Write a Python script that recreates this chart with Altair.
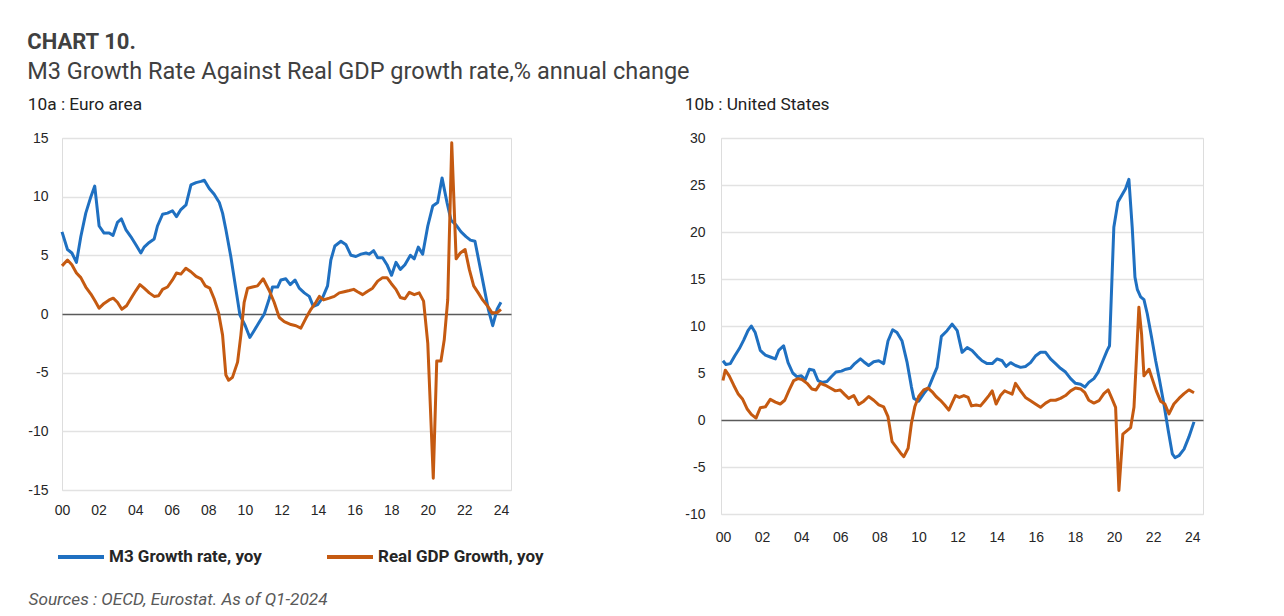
import altair as alt
import pandas as pd

BLUE = "#1f70c1"
ORANGE = "#c55a11"
M3_LABEL = "M3 Growth rate, yoy"
GDP_LABEL = "Real GDP Growth, yoy"

# (year offset from 2000, % yoy)
euro_m3 = [
    (0.00, 7.0), (0.30, 5.5), (0.54, 5.2), (0.79, 4.4), (1.03, 6.6), (1.30, 8.6), (1.58, 10.0),
    (1.79, 10.9), (2.03, 7.5), (2.30, 6.9), (2.58, 6.9), (2.79, 6.7), (3.03, 7.8), (3.25, 8.1),
    (3.49, 7.2), (3.76, 6.6), (4.04, 5.9), (4.31, 5.2), (4.49, 5.7), (4.77, 6.1), (5.04, 6.4),
    (5.22, 7.5), (5.50, 8.5), (5.77, 8.6), (6.04, 8.8), (6.26, 8.3), (6.50, 8.9), (6.78, 9.3),
    (7.05, 11.0), (7.33, 11.2), (7.60, 11.3), (7.78, 11.4), (8.05, 10.7), (8.32, 10.2), (8.60, 9.5),
    (8.78, 8.6), (8.96, 7.2), (9.23, 4.9), (9.51, 2.1), (9.73, -0.1), (10.02, -1.0), (10.27, -2.0),
    (10.51, -1.4), (10.78, -0.7), (11.06, 0.0), (11.33, 1.3), (11.51, 2.3), (11.79, 2.3),
    (11.97, 2.9), (12.24, 3.0), (12.48, 2.5), (12.74, 2.9), (12.97, 2.2), (13.25, 1.8), (13.52, 1.5),
    (13.74, 0.65), (13.98, 0.8), (14.25, 1.4), (14.52, 2.4), (14.70, 4.6), (14.92, 5.8), (15.25, 6.2),
    (15.53, 5.9), (15.80, 5.0), (16.07, 4.9), (16.35, 5.1), (16.62, 5.2), (16.80, 5.1), (17.04, 5.4),
    (17.26, 4.8), (17.53, 4.8), (17.77, 4.2), (18.02, 3.3), (18.26, 4.4), (18.50, 3.8), (18.75, 4.2),
    (19.05, 5.0), (19.26, 4.7), (19.48, 5.7), (19.72, 5.1), (20.00, 7.5), (20.27, 9.2), (20.54, 9.5),
    (20.78, 11.6), (21.05, 9.5), (21.27, 8.0), (21.54, 7.6), (21.82, 7.0), (22.09, 6.6), (22.33, 6.3),
    (22.58, 6.2), (22.82, 4.3), (23.06, 2.4), (23.31, 0.4), (23.55, -1.0), (23.79, 0.4), (24.00, 1.0),
]
euro_gdp = [
    (0.00, 4.1), (0.30, 4.6), (0.54, 4.2), (0.79, 3.5), (1.03, 3.1), (1.30, 2.3), (1.58, 1.7),
    (1.81, 1.1), (2.03, 0.5), (2.30, 0.9), (2.58, 1.2), (2.80, 1.35), (3.03, 1.0), (3.27, 0.4),
    (3.53, 0.7), (3.76, 1.3), (4.04, 2.0), (4.26, 2.5), (4.49, 2.2), (4.77, 1.8), (5.04, 1.5),
    (5.28, 1.55), (5.50, 2.1), (5.77, 2.3), (6.04, 2.9), (6.26, 3.5), (6.50, 3.4), (6.77, 3.9),
    (7.05, 3.6), (7.33, 3.2), (7.60, 3.0), (7.83, 2.4), (8.08, 2.2), (8.32, 1.3), (8.56, 0.1),
    (8.78, -1.8), (8.96, -5.2), (9.11, -5.65), (9.32, -5.4), (9.60, -4.1), (9.78, -1.8), (9.96, 1.0),
    (10.15, 2.2), (10.42, 2.3), (10.69, 2.4), (11.00, 3.0), (11.33, 2.0), (11.60, 1.0), (11.88, -0.3),
    (12.15, -0.65), (12.52, -0.9), (12.79, -1.0), (13.06, -1.2), (13.34, -0.35), (13.61, 0.4),
    (13.88, 1.0), (14.07, 1.5), (14.30, 1.2), (14.61, 1.35), (14.89, 1.5), (15.16, 1.8), (15.43, 1.9),
    (15.71, 2.0), (15.95, 2.1), (16.16, 1.9), (16.44, 1.65), (16.67, 1.9), (16.98, 2.2), (17.26, 2.8),
    (17.53, 3.1), (17.77, 3.1), (18.00, 2.6), (18.26, 2.1), (18.50, 1.4), (18.75, 1.3), (18.99, 1.85),
    (19.26, 1.65), (19.53, 1.8), (19.77, 1.1), (20.00, -2.5), (20.30, -14.0), (20.49, -4.0),
    (20.72, -4.0), (20.90, -2.2), (21.09, 1.2), (21.31, 14.6), (21.55, 4.7), (21.78, 5.2), (22.04, 5.5),
    (22.27, 3.8), (22.51, 2.4), (22.76, 1.8), (23.00, 1.2), (23.28, 0.65), (23.51, 0.1), (23.78, 0.1),
    (24.00, 0.4),
]
us_m3 = [
    (0.00, 6.3), (0.15, 5.9), (0.38, 6.0), (0.60, 6.8), (0.84, 7.6), (1.06, 8.5), (1.28, 9.5),
    (1.45, 10.0), (1.65, 9.3), (1.91, 7.4), (2.17, 6.9), (2.42, 6.7), (2.68, 6.5), (2.85, 7.4),
    (3.10, 7.9), (3.33, 6.1), (3.57, 5.0), (3.79, 4.6), (4.01, 4.7), (4.21, 4.3), (4.42, 5.4),
    (4.64, 5.3), (4.86, 4.2), (5.07, 4.0), (5.32, 4.1), (5.54, 4.6), (5.78, 5.1), (6.06, 5.2),
    (6.29, 5.4), (6.52, 5.5), (6.74, 6.0), (7.03, 6.5), (7.20, 6.2), (7.45, 5.8), (7.71, 6.2),
    (7.97, 6.3), (8.22, 6.0), (8.44, 8.4), (8.68, 9.6), (8.90, 9.3), (9.16, 8.4), (9.42, 6.1),
    (9.64, 3.5), (9.76, 2.3), (10.01, 2.0), (10.27, 2.8), (10.53, 3.5), (10.73, 4.5), (10.95, 5.6),
    (11.17, 8.9), (11.46, 9.5), (11.72, 10.2), (11.98, 9.5), (12.23, 7.2), (12.49, 7.7), (12.74, 7.4),
    (13.00, 6.8), (13.25, 6.3), (13.51, 6.0), (13.77, 6.0), (14.02, 6.5), (14.28, 6.3), (14.48, 5.7),
    (14.71, 6.1), (14.96, 5.8), (15.22, 5.6), (15.47, 5.7), (15.73, 6.1), (15.98, 6.8), (16.24, 7.2),
    (16.50, 7.2), (16.75, 6.5), (17.01, 6.0), (17.26, 5.5), (17.52, 5.1), (17.78, 4.4), (18.03, 3.9),
    (18.29, 3.8), (18.51, 3.5), (18.71, 4.0), (18.97, 4.4), (19.19, 5.1), (19.43, 6.3), (19.65, 7.4),
    (19.77, 7.9), (19.99, 20.5), (20.20, 23.2), (20.42, 24.0), (20.59, 24.6), (20.76, 25.6),
    (20.93, 20.5), (21.07, 15.2), (21.19, 13.9), (21.36, 13.1), (21.53, 12.8), (21.70, 11.3),
    (21.92, 8.8), (22.13, 6.3), (22.33, 4.2), (22.55, 1.7), (22.77, -1.1), (22.98, -3.6),
    (23.12, -4.0), (23.32, -3.8), (23.58, -3.1), (23.83, -1.8), (24.09, -0.2),
]
us_gdp = [
    (0.00, 4.2), (0.12, 5.3), (0.32, 4.7), (0.55, 3.7), (0.77, 2.8), (1.01, 2.2), (1.23, 1.2),
    (1.45, 0.6), (1.69, 0.2), (1.91, 1.3), (2.17, 1.4), (2.42, 2.2), (2.68, 1.9), (2.93, 1.7),
    (3.16, 2.1), (3.39, 3.2), (3.62, 4.2), (3.84, 4.4), (4.04, 4.3), (4.30, 3.9), (4.55, 3.3),
    (4.76, 3.2), (4.98, 3.9), (5.24, 3.7), (5.49, 3.4), (5.75, 3.1), (6.00, 3.2), (6.23, 2.7),
    (6.43, 2.3), (6.69, 2.6), (6.94, 1.65), (7.20, 2.0), (7.45, 2.5), (7.71, 2.1), (7.97, 1.6),
    (8.22, 1.4), (8.44, 0.35), (8.65, -2.3), (8.90, -3.0), (9.08, -3.5), (9.25, -3.9), (9.47, -3.0),
    (9.64, -0.35), (9.81, 1.4), (10.01, 2.5), (10.27, 3.2), (10.49, 3.4), (10.70, 3.0), (10.90, 2.5),
    (11.12, 2.1), (11.34, 1.6), (11.55, 1.05), (11.89, 2.6), (12.09, 2.4), (12.32, 2.6), (12.54, 2.4),
    (12.71, 1.5), (12.95, 1.6), (13.17, 1.5), (13.39, 2.05), (13.60, 2.6), (13.77, 3.1), (13.97, 1.7),
    (14.19, 2.6), (14.41, 3.1), (14.62, 2.9), (14.79, 2.75), (14.96, 3.9), (15.22, 3.1), (15.47, 2.4),
    (15.73, 2.05), (15.98, 1.7), (16.24, 1.35), (16.50, 1.8), (16.75, 2.1), (17.01, 2.1), (17.26, 2.3),
    (17.52, 2.6), (17.78, 3.1), (18.03, 3.4), (18.29, 3.3), (18.51, 2.9), (18.71, 2.1), (18.97, 1.8),
    (19.23, 2.05), (19.48, 2.8), (19.70, 3.2), (19.91, 2.2), (20.08, 1.35), (20.25, -7.5),
    (20.45, -1.5), (20.68, -1.1), (20.85, -0.8), (21.02, 1.35), (21.14, 6.3), (21.27, 12.0),
    (21.41, 9.1), (21.53, 4.7), (21.79, 5.4), (21.95, 4.4), (22.16, 3.1), (22.38, 2.0), (22.60, 1.7),
    (22.81, 0.65), (23.06, 1.7), (23.32, 2.3), (23.58, 2.8), (23.83, 3.2), (24.09, 2.9),
]

x_ticks = list(range(0, 25, 2))
euro_y_ticks = [-15, -10, -5, 0, 5, 10, 15]
us_y_ticks = [-10, -5, 0, 5, 10, 15, 20, 25, 30]

LABEL_FONT = "Liberation Sans"
TEXT_FONT = "Roboto"


def frame(m3, gdp):
    rows = [{"year": t, "value": v, "series": M3_LABEL} for t, v in m3]
    rows += [{"year": t, "value": v, "series": GDP_LABEL} for t, v in gdp]
    return pd.DataFrame(rows)


grid_color = {"condition": {"test": "datum.value === 0", "value": "#5a5a5a"}, "value": "#e2e2e2"}
grid_width = {"condition": {"test": "datum.value === 0", "value": 1.6}, "value": 1.4}


def panel(df, title, width, height, xdom, ydom, yticks, ylabelpad, xlabelpad, legend, xtitle):
    x_axis_kwargs = dict(
        values=x_ticks,
        labelExpr="datum.value < 10 ? '0' + datum.value : '' + datum.value",
        grid=False, ticks=False, domain=False, labelFlush=False,
        labelFont=LABEL_FONT, labelFontSize=14, labelColor="#262626",
        labelPadding=xlabelpad,
    )
    if xtitle:
        x_axis_kwargs.update(
            title=xtitle, titleX=-34, titleY=109, titleAlign="left", titleAnchor="start",
            titleBaseline="middle", titleFont=TEXT_FONT, titleFontSize=17.2, titleFontStyle="italic",
            titleFontWeight="normal", titleColor="#595959",
        )
    else:
        x_axis_kwargs.update(title=None)
    return alt.Chart(df).mark_line(strokeWidth=3, strokeJoin="round").encode(
        x=alt.X("year:Q", scale=alt.Scale(domain=xdom, nice=False, zero=False),
                axis=alt.Axis(**x_axis_kwargs)),
        y=alt.Y("value:Q", scale=alt.Scale(domain=ydom, nice=False),
                axis=alt.Axis(values=yticks, title=None, ticks=False, domain=False,
                              labelExpr="'' + datum.value",
                              gridColor=grid_color, gridWidth=grid_width,
                              labelFont=LABEL_FONT, labelFontSize=14, labelColor="#262626",
                              labelPadding=ylabelpad)),
        color=alt.Color("series:N", scale=alt.Scale(domain=[M3_LABEL, GDP_LABEL], range=[BLUE, ORANGE]),
                        legend=legend),
    ).properties(
        width=width, height=height,
        title=alt.TitleParams(title, anchor="start", font=TEXT_FONT, fontSize=17.3,
                              fontWeight="normal", color="#222222", offset=18),
    )


legend = alt.Legend(
    title=None, orient="none", legendX=-6, legendY=394, columns=2, columnPadding=57,
    symbolType="stroke", symbolSize=2116, symbolStrokeWidth=4, labelOffset=3, padding=0,
    labelFont=TEXT_FONT, labelFontSize=17, labelFontWeight="bold", labelColor="#262626",
    labelLimit=300,
)

left = panel(frame(euro_m3, euro_gdp), "10a : Euro area", 449, 352, [0, 24.55], [-15, 15],
             euro_y_ticks, 14, 13.5, legend, "Sources : OECD, Eurostat. As of Q1-2024")
right = panel(frame(us_m3, us_gdp), "10b : United States", 482, 376, [-0.1, 24.55], [-10, 30],
              us_y_ticks, 16, 16, None, None)

chart = alt.hconcat(left, right, spacing=139).resolve_legend(color="independent").resolve_scale(
    color="independent"
).properties(
    title=alt.TitleParams(
        "CHART 10.", subtitle="M3 Growth Rate Against Real GDP growth rate,% annual change",
        anchor="start", font=TEXT_FONT, fontSize=22, fontWeight="bold", color="#404040",
        subtitleFont=TEXT_FONT, subtitleFontSize=23.5, subtitleColor="#404040",
        subtitlePadding=6, offset=11,
    ),
    padding={"left": 19, "top": 22, "right": 5, "bottom": 0},
).configure_view(strokeWidth=0).configure(background="white")

chart.save("out.html", embed_options={"renderer": "svg", "actions": False})
